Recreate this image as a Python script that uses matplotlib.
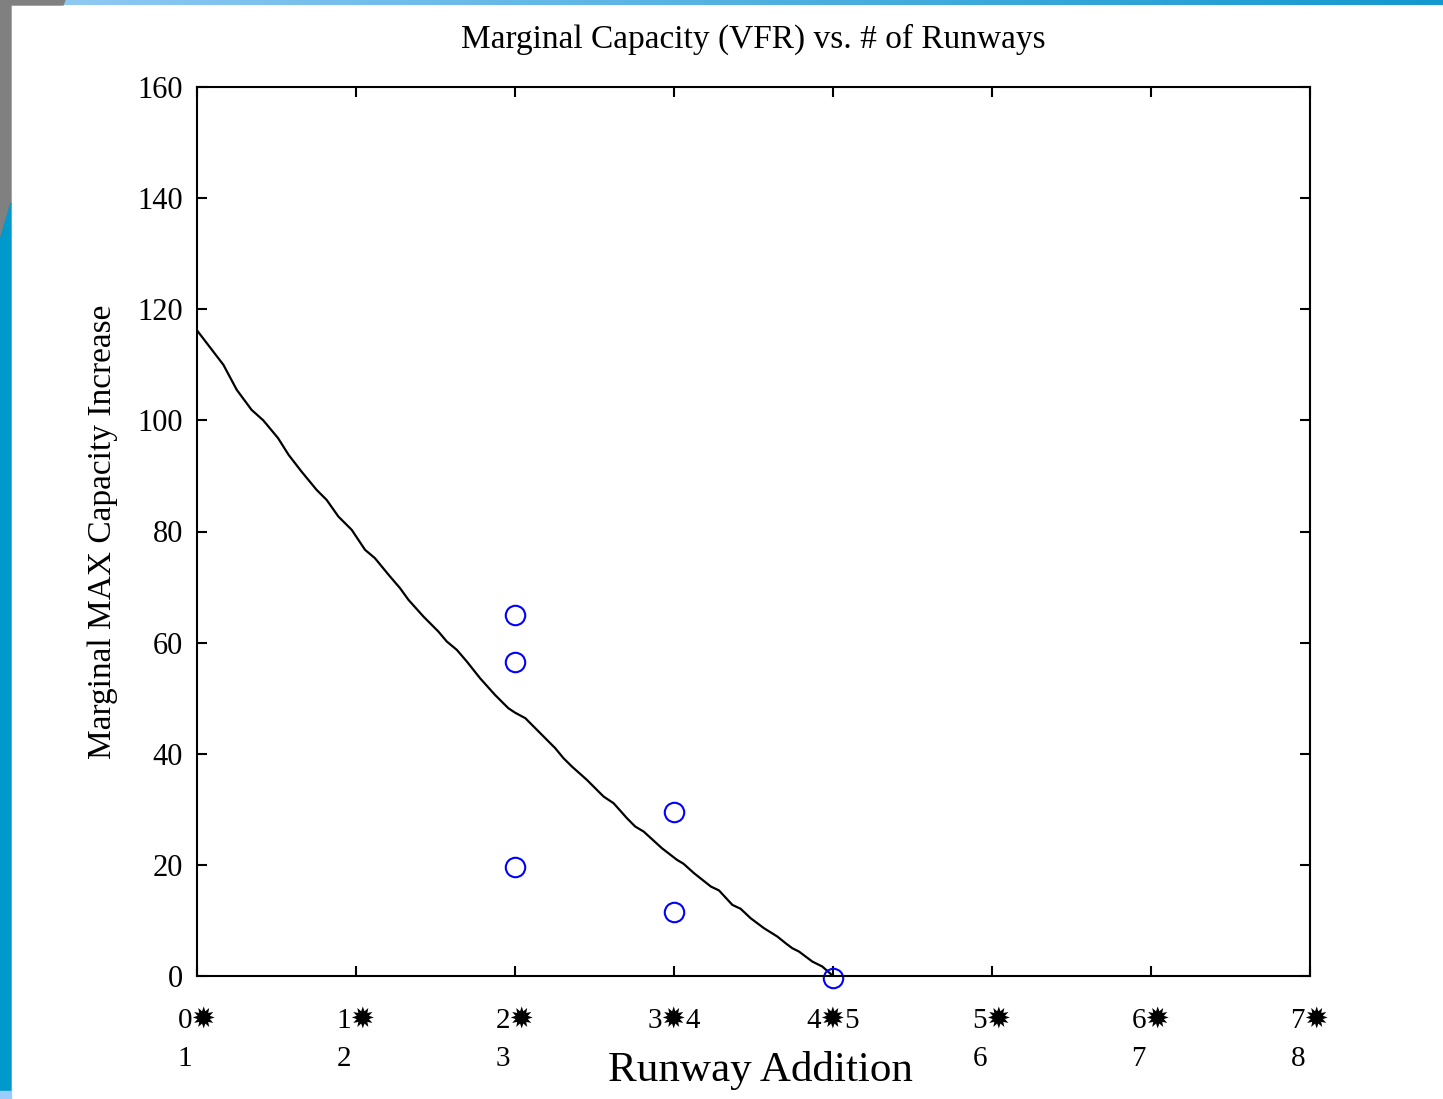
import matplotlib
matplotlib.use("Agg")
import matplotlib.pyplot as plt
import numpy as np
from matplotlib.patches import Polygon
from matplotlib.colors import LinearSegmentedColormap

# ---- data ----
line_x = [0.0, 0.166, 0.25, 0.343, 0.417, 0.51, 0.576, 0.657, 0.752, 0.815, 0.889, 0.973,
          1.057, 1.119, 1.214, 1.277, 1.33, 1.424, 1.518, 1.571, 1.634, 1.697, 1.78, 1.874,
          1.958, 2.0, 2.065, 2.159, 2.253, 2.305, 2.358, 2.452, 2.557, 2.62, 2.704, 2.756,
          2.809, 2.924, 3.019, 3.06, 3.126, 3.179, 3.232, 3.283, 3.367, 3.419, 3.482, 3.566,
          3.65, 3.702, 3.744, 3.786, 3.87, 3.933, 4.0]
line_y = [116.2, 110.0, 105.5, 101.9, 100.0, 96.8, 93.8, 90.8, 87.5, 85.7, 82.7, 80.3,
          76.7, 75.2, 71.9, 69.8, 67.7, 64.7, 62.0, 60.2, 58.7, 56.6, 53.6, 50.6,
          48.2, 47.4, 46.4, 43.7, 41.0, 39.2, 37.7, 35.3, 32.3, 31.1, 28.4, 26.9,
          26.0, 23.0, 20.9, 20.2, 18.5, 17.3, 16.1, 15.4, 12.8, 12.1, 10.4, 8.6,
          7.1, 5.9, 5.0, 4.4, 2.6, 1.7, 0.0]
point_x = [2, 2, 2, 3, 3, 4]
point_y = [65.0, 56.5, 19.7, 29.6, 11.6, -0.4]
x_ticks = [0, 1, 2, 3, 4, 5, 6, 7]
x_labels = ["0\u2739\n1", "1\u2739\n2", "2\u2739\n3", "3\u27394", "4\u27395",
            "5\u2739\n6", "6\u2739\n7", "7\u2739\n8"]
y_ticks = [0, 20, 40, 60, 80, 100, 120, 140, 160]

serif = ["Liberation Serif", "DejaVu Sans"]
W, H = 1443, 1099
fig = plt.figure(figsize=(W / 100, H / 100), dpi=100)

# ---- slide decorations ----
def px(pts):
    return [(x / W, 1 - y / H) for x, y in pts]

fig.patches.append(Polygon(px([(0, 0), (65, 0), (63, 5), (11, 5), (11, 203), (0, 240)]),
                           closed=True, transform=fig.transFigure, color="#808080", zorder=0))
fig.patches.append(Polygon(px([(0, 240), (11, 203), (11, 1091), (0, 1091)]),
                           closed=True, transform=fig.transFigure, color="#0099CC", zorder=0))
fig.patches.append(Polygon(px([(0, 1091), (11, 1091), (11, 1099), (0, 1099)]),
                           closed=True, transform=fig.transFigure, color="#99CCFF", zorder=0))
bar = fig.add_axes([63 / W, 1 - 5 / H, (W - 63) / W, 5 / H])
grad = np.linspace(0, 1, 256)[None, :]
cm = LinearSegmentedColormap.from_list("g", ["#8EC9F3", "#1399CF"])
bar.imshow(grad, aspect="auto", cmap=cm, extent=[0, 1, 0, 1])
bar.set_axis_off()

# ---- main axes ----
ax = fig.add_axes([197 / W, 123 / H, 1113 / W, 889 / H])
ax.plot(line_x, line_y, color="black", lw=1.6)
ax.plot(point_x, point_y, linestyle="none", marker="o", markersize=14,
        markerfacecolor="none", markeredgecolor="#0000FF", markeredgewidth=1.5,
        clip_on=False)
ax.set_xlim(0, 7)
ax.set_ylim(0, 160)
ax.set_xticks(x_ticks)
ax.set_xticklabels(x_labels, family=serif, fontsize=21, ha="center",
                   multialignment="left", linespacing=1.6)
ax.set_yticks(y_ticks)
ax.set_yticklabels([str(v) for v in y_ticks], family=serif, fontsize=22)
ax.tick_params(axis="both", direction="in", length=7, width=1.5,
               top=True, right=True)
ax.tick_params(axis="x", pad=23)
ax.tick_params(axis="y", pad=10)
for s in ax.spines.values():
    s.set_linewidth(1.5)

ax.set_title("Marginal Capacity (VFR) vs. # of Runways", family=serif,
             fontsize=24, pad=28)
ax.set_xlabel("Runway Addition", family=serif, fontsize=31)
ax.xaxis.set_label_coords(0.506, -0.084)
ax.set_ylabel("Marginal MAX Capacity Increase", family=serif, fontsize=24)
ax.yaxis.set_label_coords(-0.071, 0.5)

fig.savefig("out.png", dpi=100)
